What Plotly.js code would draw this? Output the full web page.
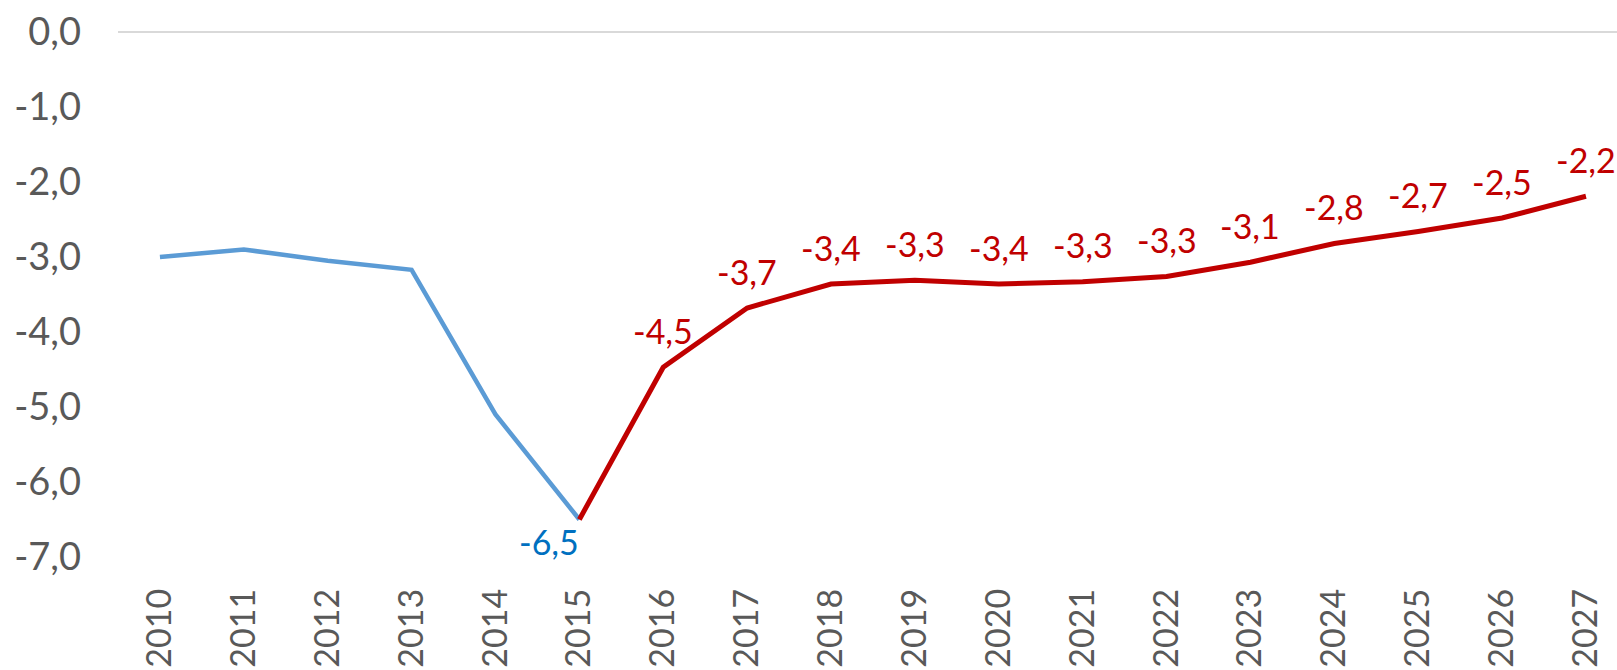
<!DOCTYPE html>
<html>
<head>
<meta charset="utf-8">
<script src="https://cdn.plot.ly/plotly-3.0.1.min.js"></script>
<style>
html,body{margin:0;padding:0;background:#fff;}
#chart{width:1617px;height:670px;}
</style>
</head>
<body>
<div id="chart"></div>
<script>
var years = ['2010','2011','2012','2013','2014','2015','2016','2017','2018','2019','2020','2021','2022','2023','2024','2025','2026','2027'];
var actualValues = [-3.0, -2.9, -3.05, -3.17, -5.1, -6.5, null, null, null, null, null, null, null, null, null, null, null, null];
var forecastValues = [null, null, null, null, null, -6.5, -4.47, -3.68, -3.36, -3.31, -3.36, -3.33, -3.26, -3.07, -2.82, -2.66, -2.48, -2.19];
var yTicks = [0, -1, -2, -3, -4, -5, -6, -7];

function fmt(v){ return v.toFixed(1).replace('.', ','); }

var traces = [
  {x: years, y: actualValues, type: 'scatter', mode: 'lines',
   line: {color: '#5B9BD5', width: 4.5}, hoverinfo: 'skip', showlegend: false},
  {x: years, y: forecastValues, type: 'scatter', mode: 'lines',
   line: {color: '#C00000', width: 5}, hoverinfo: 'skip', showlegend: false}
];

var annotations = [];
var minIdx = 5;
annotations.push({xref: 'x', yref: 'y', x: minIdx, y: actualValues[minIdx], text: fmt(actualValues[minIdx]),
  showarrow: false, xanchor: 'right', yanchor: 'middle', yshift: -22, xshift: 2,
  font: {family: 'Lato, sans-serif', size: 34, color: '#0070C0'}});
for (var i = 0; i < years.length; i++) {
  if (forecastValues[i] === null || i === minIdx) continue;
  annotations.push({xref: 'x', yref: 'y', x: i, y: forecastValues[i], text: fmt(forecastValues[i]),
    showarrow: false, xanchor: 'center', yanchor: 'middle', yshift: 37,
    font: {family: 'Lato, sans-serif', size: 34, color: '#C00000'}});
}

var layout = {
  width: 1617, height: 670,
  margin: {l: 118, r: 0, t: 32, b: 113, pad: 0},
  paper_bgcolor: '#ffffff', plot_bgcolor: '#ffffff',
  font: {family: 'Lato, sans-serif', color: '#595959'},
  xaxis: {type: 'category', range: [-0.5, 17.37], showgrid: false, zeroline: false,
    showline: false, ticks: '', tickangle: -90, ticklabelstandoff: 24,
    tickfont: {family: 'Lato, sans-serif', size: 34, color: '#595959'}},
  yaxis: {range: [-7, 0], tickvals: yTicks, ticktext: yTicks.map(fmt), showgrid: false,
    zeroline: true, zerolinecolor: '#D9D9D9', zerolinewidth: 1.5,
    showline: false, ticks: '', ticklabelstandoff: 36,
    tickfont: {family: 'Lato, sans-serif', size: 38, color: '#595959'}},
  annotations: annotations,
  showlegend: false
};

Plotly.newPlot('chart', traces, layout, {staticPlot: true, displayModeBar: false});
</script>
</body>
</html>
